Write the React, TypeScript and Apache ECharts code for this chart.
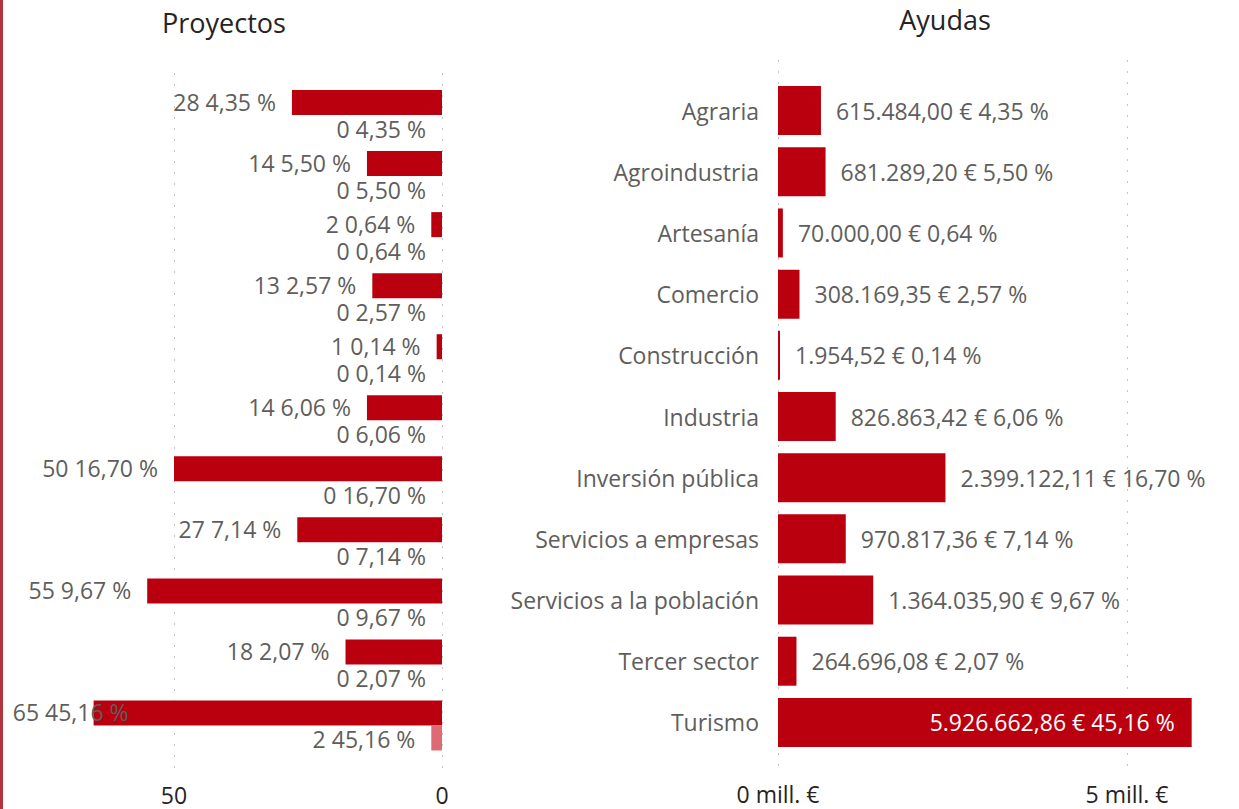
import React, { useEffect, useRef } from "react";
import * as echarts from "echarts";

const categories = [
  "Agraria",
  "Agroindustria",
  "Artesanía",
  "Comercio",
  "Construcción",
  "Industria",
  "Inversión pública",
  "Servicios a empresas",
  "Servicios a la población",
  "Tercer sector",
  "Turismo",
];
const proyectosA = [28, 14, 2, 13, 1, 14, 50, 27, 55, 18, 65];
const proyectosB = [0, 0, 0, 0, 0, 0, 0, 0, 0, 0, 2];
const porcentajes = [4.35, 5.5, 0.64, 2.57, 0.14, 6.06, 16.7, 7.14, 9.67, 2.07, 45.16];
const ayudas = [
  615484.0, 681289.2, 70000.0, 308169.35, 1954.52, 826863.42, 2399122.11, 970817.36,
  1364035.9, 264696.08, 5926662.86,
];
const leftTicks = [0, 50];
const rightTicks = [0, 5000000];

const RED = "#BA000F";
const PINK = "#DE6B74";
const GRAY = "#605E5C";
const DARK = "#252423";
const FONT = "'Open Sans', 'Noto Sans', sans-serif";
const FS = 23;

function fmtEs(n: number, dec = 2): string {
  const s = n.toFixed(dec);
  const [ip, dp] = s.split(".");
  const withDots = ip.replace(/\B(?=(\d{3})+(?!\d))/g, ".");
  return dp ? `${withDots},${dp}` : withDots;
}

export default function App() {
  const ref = useRef<HTMLDivElement>(null);
  useEffect(() => {
    if (!ref.current) return;
    const chart = echarts.init(ref.current, undefined, { renderer: "svg" });
    const W = 1239;
    const H = 809;
    const dotted = { type: [2, 9] as any, color: "#C8C6C4", width: 1 };

    const leftGrid = { left: 174, right: W - 442 };
    const rightGrid = { left: 778, right: W - 1127 };

    const option: any = {
      animation: false,
      grid: [
        { ...leftGrid, top: 73, bottom: H - 777 },
        { ...leftGrid, top: 84.5, bottom: H - 756 },
        { ...rightGrid, top: 60, bottom: H - 775 },
        { ...rightGrid, top: 80, bottom: H - 753 },
      ],
      xAxis: [
        {
          gridIndex: 0,
          type: "value",
          min: leftTicks[0],
          max: leftTicks[1],
          interval: leftTicks[1] - leftTicks[0],
          inverse: true,
          axisLine: { show: false },
          axisTick: { show: false },
          splitLine: { show: true, lineStyle: dotted },
          axisLabel: { color: DARK, fontSize: FS, fontFamily: FONT, margin: 6 },
        },
        {
          gridIndex: 1,
          type: "value",
          min: leftTicks[0],
          max: leftTicks[1],
          inverse: true,
          show: false,
          splitLine: { show: false },
        },
        {
          gridIndex: 2,
          type: "value",
          min: rightTicks[0],
          max: rightTicks[1],
          interval: rightTicks[1] - rightTicks[0],
          axisLine: { show: false },
          axisTick: { show: false },
          splitLine: { show: true, lineStyle: dotted },
          axisLabel: {
            color: DARK,
            fontSize: FS,
            fontFamily: FONT,
            margin: 7,
            formatter: (v: number) => `${v / 1000000} mill. €`,
          },
        },
        {
          gridIndex: 3,
          type: "value",
          min: rightTicks[0],
          max: rightTicks[1],
          show: false,
          splitLine: { show: false },
        },
      ],
      yAxis: [
        { gridIndex: 0, type: "value", min: 0, max: 1, show: false, splitLine: { show: false } },
        {
          gridIndex: 1,
          type: "category",
          data: categories,
          inverse: true,
          show: false,
        },
        { gridIndex: 2, type: "value", min: 0, max: 1, show: false, splitLine: { show: false } },
        {
          gridIndex: 3,
          type: "category",
          data: categories,
          inverse: true,
          axisLine: { show: false },
          axisTick: { show: false },
          axisLabel: { color: GRAY, fontSize: FS, fontFamily: FONT, margin: 19 },
        },
      ],
      series: [
        {
          type: "bar",
          xAxisIndex: 1,
          yAxisIndex: 1,
          barWidth: 25,
          barGap: "0%",
          clip: false,
          itemStyle: { color: RED },
          label: {
            show: true,
            position: "left",
            distance: 16,
            color: GRAY,
            fontSize: FS,
            lineHeight: 22,
            fontFamily: FONT,
            offset: [0, -1],
            formatter: (p: any) => `${p.value} ${fmtEs(porcentajes[p.dataIndex])} %`,
          },
          data: proyectosA.map((v, i) =>
            i === categories.length - 1
              ? { value: v, label: { offset: [51, -1] } }
              : v
          ),
        },
        {
          type: "bar",
          xAxisIndex: 1,
          yAxisIndex: 1,
          barWidth: 25,
          barGap: "0%",
          clip: false,
          itemStyle: { color: PINK },
          label: {
            show: true,
            position: "left",
            distance: 16,
            color: GRAY,
            fontSize: FS,
            lineHeight: 22,
            fontFamily: FONT,
            offset: [0, 1],
            formatter: (p: any) => `${p.value} ${fmtEs(porcentajes[p.dataIndex])} %`,
          },
          data: proyectosB,
        },
        {
          type: "bar",
          xAxisIndex: 3,
          yAxisIndex: 3,
          barWidth: 49,
          barMinHeight: 2,
          clip: false,
          itemStyle: { color: RED },
          label: {
            show: true,
            position: "right",
            distance: 15,
            color: GRAY,
            fontSize: FS,
            fontFamily: FONT,
            formatter: (p: any) => `${fmtEs(p.value)} € ${fmtEs(porcentajes[p.dataIndex])} %`,
          },
          data: ayudas.map((v, i) =>
            i === categories.length - 1
              ? { value: v, label: { position: "insideRight", distance: 17, color: "#FFFFFF" } }
              : v
          ),
        },
      ],
      graphic: [
        {
          type: "rect",
          shape: { x: 0, y: 0, width: 3, height: H },
          style: { fill: "#B3343F" },
        },
        {
          type: "text",
          x: 224,
          y: 22,
          style: {
            text: "Proyectos",
            textAlign: "center",
            textVerticalAlign: "middle",
            fill: DARK,
            font: `500 27px ${FONT}`,
          },
        },
        {
          type: "text",
          x: 945,
          y: 19,
          style: {
            text: "Ayudas",
            textAlign: "center",
            textVerticalAlign: "middle",
            fill: DARK,
            font: `500 27px ${FONT}`,
          },
        },
      ],
    };
    chart.setOption(option);
    return () => chart.dispose();
  }, []);
  return (
    <div
      ref={ref}
      style={{ position: "fixed", left: 0, top: 0, width: 1239, height: 809, background: "#fff" }}
    />
  );
}
